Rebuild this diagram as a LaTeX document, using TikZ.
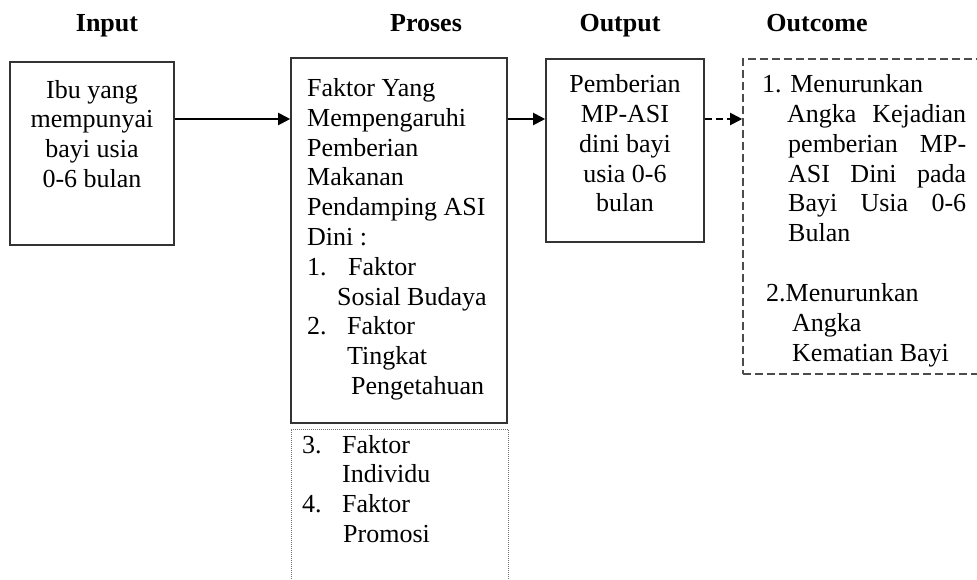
\documentclass[tikz,border=0pt]{standalone}
\usepackage{fontspec}
\setmainfont{Liberation Serif}
\usepackage{tikz}
\usetikzlibrary{arrows.meta, positioning}
\tikzstyle{box} = [rectangle, draw=black!80, line width=1.6pt, inner sep=0pt]
\tikzstyle{dashbox} = [rectangle, draw=black!70, line width=1.6pt, dash pattern=on 8pt off 4pt, inner sep=0pt]
\tikzstyle{dotbox} = [rectangle, draw=black!55, line width=0.9pt, dash pattern=on 1pt off 1pt, inner sep=0pt]
\tikzstyle{header} = [font=\fontsize{26}{29.8}\selectfont\bfseries, inner sep=0pt, anchor=base]
\tikzstyle{txt} = [inner sep=0pt, align=left, anchor=base west]
\tikzstyle{ctxt} = [inner sep=0pt, align=center, anchor=base]
\tikzstyle{arrow} = [line width=2pt,->,>={Triangle[length=12pt,width=12pt]}]
\tikzstyle{dasharrow} = [arrow, dash pattern=on 7pt off 4pt]

\begin{document}
\begin{tikzpicture}[x=1pt, y=1pt, font=\fontsize{26}{29.8}\selectfont]
      \useasboundingbox (0,0) rectangle (977,-579);
      \node (hinput) [header] at (107,-31.5) {Input};
      \node (hproses) [header] at (426,-31.5) {Proses};
      \node (houtput) [header] at (620,-31.5) {Output};
      \node (houtcome) [header] at (817,-31.5) {Outcome};
      \node (input) [box, minimum width=164pt, minimum height=183pt] at (92,-153.5) {};
      \node (proses) [box, minimum width=216pt, minimum height=365pt] at (399,-240.5) {};
      \node (extra) [dotbox, minimum width=217pt, minimum height=181pt] at (399.5,-519.5) {};
      \node (output) [box, minimum width=158pt, minimum height=183pt] at (625,-150.5) {};
      \node (outcome) [dashbox, minimum width=257pt, minimum height=315pt] at (871.5,-216.5) {};
      % base of a multi-line node is its last line
      \node (tinput) [ctxt] at (92,-187.4) {Ibu yang\\mempunyai\\bayi usia\\0-6 bulan};
      \node (tproses) [txt] at (307,-394.5) {Faktor Yang\\Mempengaruhi\\Pemberian\\Makanan\\Pendamping ASI\\Dini :\\\makebox[41pt][l]{1.}Faktor\\\hspace*{30pt}Sosial Budaya\\\makebox[40pt][l]{2.}Faktor\\\hspace*{40pt}Tingkat\\\hspace*{44pt}Pengetahuan};
      \node (textra) [txt] at (302,-542.4) {\makebox[40pt][l]{3.}Faktor\\\hspace*{40pt}Individu\\\makebox[40pt][l]{4.}Faktor\\\hspace*{41pt}Promosi};
      \node (toutput) [ctxt] at (625,-211.9) {Pemberian\\MP-ASI\\dini bayi\\usia 0-6\\bulan};
      \node (toutcome) [txt] at (762,-361.1) {1. Menurunkan\\\hspace*{25pt}\makebox[179pt][s]{Angka Kejadian}\\\hspace*{26pt}\makebox[178pt][s]{pemberian MP-}\\\hspace*{26pt}\makebox[178pt][s]{ASI Dini pada}\\\hspace*{26pt}\makebox[178pt][s]{Bayi Usia 0-6}\\\hspace*{26pt}Bulan\\[30pt]\hspace*{4pt}2.Menurunkan\\\hspace*{30pt}Angka\\\hspace*{30pt}Kematian Bayi};
      \draw [arrow] ([yshift=34.5pt]input.east) -- ([yshift=34.5pt]input.east -| proses.west);
      \draw [arrow] ([yshift=31.5pt]output.west -| proses.east) -- ([yshift=31.5pt]output.west);
      \draw [dasharrow] ([yshift=31.5pt]output.east) -- ([yshift=31.5pt]output.east -| outcome.west);
    \end{tikzpicture}
\end{document}
